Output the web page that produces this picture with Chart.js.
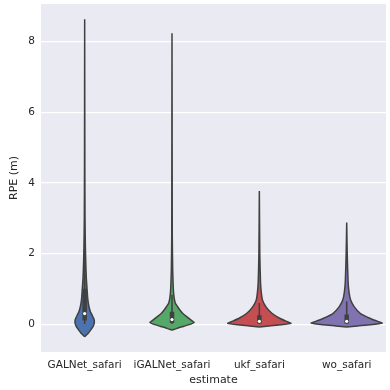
<!DOCTYPE html>
<html>
<head>
<meta charset="utf-8">
<script src="https://cdn.jsdelivr.net/npm/chart.js@4.4.1/dist/chart.umd.min.js"></script>
<style>
  html, body { margin: 0; padding: 0; background: #ffffff; overflow: hidden; }
  #wrap { width: 390px; height: 390px; }
</style>
</head>
<body>
<div id="wrap"><canvas id="c" width="390" height="390"></canvas></div>
<script>
// Estimators compared on the safari sequence
const categories = ['GALNet_safari', 'iGALNet_safari', 'ukf_safari', 'wo_safari'];
const colors = ['#4C72B0', '#55A868', '#C44E52', '#8172B2'];

// Kernel density outlines: RPE levels (m) and half-width of the violin at each level
const galnetLevels = [-0.36, -0.30, -0.25, -0.17, -0.08, 0.00, 0.07, 0.15, 0.25, 0.35, 0.50, 0.70, 1.00, 1.30, 1.70, 2.20, 3.00, 4.50, 8.64];
const galnetWidths = [0, 0.023, 0.043, 0.068, 0.094, 0.107, 0.111, 0.105, 0.086, 0.066, 0.049, 0.036, 0.027, 0.019, 0.013, 0.008, 0.004, 0.002, 0];

const igalnetLevels = [-0.17, -0.12, -0.06, 0.00, 0.05, 0.10, 0.20, 0.30, 0.40, 0.50, 0.60, 0.77, 1.00, 1.50, 2.50, 8.24];
const igalnetWidths = [0, 0.056, 0.136, 0.215, 0.254, 0.226, 0.175, 0.124, 0.090, 0.062, 0.037, 0.023, 0.015, 0.008, 0.003, 0];

const ukfLevels = [-0.08, -0.05, -0.02, 0.02, 0.06, 0.16, 0.30, 0.49, 0.68, 0.90, 1.20, 2.00, 3.77];
const ukfWidths = [0, 0.113, 0.249, 0.362, 0.328, 0.237, 0.147, 0.076, 0.036, 0.022, 0.013, 0.005, 0];

const woLevels = [-0.08, -0.05, -0.02, 0.03, 0.07, 0.16, 0.30, 0.49, 0.68, 0.90, 1.20, 2.00, 2.88];
const woWidths = [0, 0.124, 0.271, 0.407, 0.362, 0.271, 0.158, 0.087, 0.045, 0.027, 0.016, 0.006, 0];

// Box summaries per estimator
const q1 = [0.10, 0.03, 0.02, 0.02];
const medians = [0.30, 0.13, 0.08, 0.08];
const q3 = [1.00, 0.35, 0.25, 0.27];
const whiskerLow = [0.00, 0.00, 0.00, 0.00];
const whiskerHigh = [2.35, 0.83, 0.60, 0.65];

const yTicks = [0, 2, 4, 6, 8];

const profiles = [
  [galnetLevels, galnetWidths],
  [igalnetLevels, igalnetWidths],
  [ukfLevels, ukfWidths],
  [woLevels, woWidths]
];

const outline = '#404040';
const ink = '#262626';

function violinPoints(i, levels, widths) {
  const right = levels.map((y, k) => ({ x: i + widths[k], y }));
  const left = levels.map((y, k) => ({ x: i - widths[k], y })).reverse();
  return right.concat(left);
}

const datasets = [];
profiles.forEach(([levels, widths], i) => {
  datasets.push({
    label: categories[i],
    data: violinPoints(i, levels, widths),
    showLine: true,
    fill: 'shape',
    backgroundColor: colors[i],
    borderColor: outline,
    borderWidth: 1.5,
    pointRadius: 0,
    tension: 0.15,
    order: 4
  });
});

function segments(lo, hi) {
  const pts = [];
  categories.forEach((_, i) => {
    pts.push({ x: i, y: lo[i] }, { x: i, y: hi[i] }, { x: i, y: null });
  });
  return pts;
}

datasets.push({
  label: 'whiskers',
  data: segments(whiskerLow, whiskerHigh),
  showLine: true,
  spanGaps: false,
  borderColor: outline,
  borderWidth: 1.5,
  pointRadius: 0,
  fill: false,
  order: 3
});
datasets.push({
  label: 'box',
  data: segments(q1, q3),
  showLine: true,
  spanGaps: false,
  borderColor: outline,
  borderWidth: 4.5,
  borderCapStyle: 'butt',
  pointRadius: 0,
  fill: false,
  order: 2
});
datasets.push({
  label: 'median',
  data: medians.map((m, i) => ({ x: i, y: m })),
  showLine: false,
  pointRadius: 1.6,
  pointBackgroundColor: '#ffffff',
  pointBorderWidth: 0,
  order: 1
});

new Chart(document.getElementById('c'), {
  type: 'scatter',
  data: { datasets },
  options: {
    responsive: false,
    animation: false,
    layout: { padding: { top: 4, right: 0, left: 0, bottom: 0 } },
    plugins: {
      legend: { display: false },
      tooltip: { enabled: false }
    },
    scales: {
      x: {
        type: 'linear',
        min: -0.5,
        max: 3.45,
        afterBuildTicks: (s) => { s.ticks = categories.map((_, i) => ({ value: i })); },
        afterFit: (s) => {
          s.height = 38;
          s.paddingLeft = 0; s.paddingRight = 0;
        },
        ticks: {
          callback: (v) => categories[v] ?? '',
          color: ink,
          font: { family: 'DejaVu Sans', size: 10.5 },
          padding: 7,
          maxRotation: 0,
          autoSkip: false
        },
        grid: { display: false, drawTicks: false },
        border: { display: false },
        title: {
          display: true,
          text: 'estimate',
          color: ink,
          font: { family: 'DejaVu Sans', size: 11 },
          padding: { top: 0, bottom: 3 }
        }
      },
      y: {
        type: 'linear',
        min: -0.79,
        max: 9.07,
        afterBuildTicks: (s) => { s.ticks = yTicks.map(v => ({ value: v })); },
        afterFit: (s) => {
          s.width = 41;
          s.paddingTop = 0; s.paddingBottom = 0;
        },
        ticks: {
          color: ink,
          font: { family: 'DejaVu Sans', size: 10.5 },
          padding: 6
        },
        grid: { color: '#ffffff', lineWidth: 1.2, drawTicks: false },
        border: { display: false },
        title: {
          display: true,
          text: 'RPE (m)',
          color: ink,
          font: { family: 'DejaVu Sans', size: 11 },
          padding: { top: 8, bottom: 0 }
        }
      }
    }
  },
  plugins: [{
    id: 'plotBackground',
    beforeDraw(chart) {
      const { ctx, chartArea: a } = chart;
      ctx.save();
      ctx.fillStyle = '#EAEAF2';
      ctx.fillRect(a.left, a.top, a.right - a.left, a.bottom - a.top);
      ctx.restore();
    }
  }]
});
</script>
</body>
</html>
